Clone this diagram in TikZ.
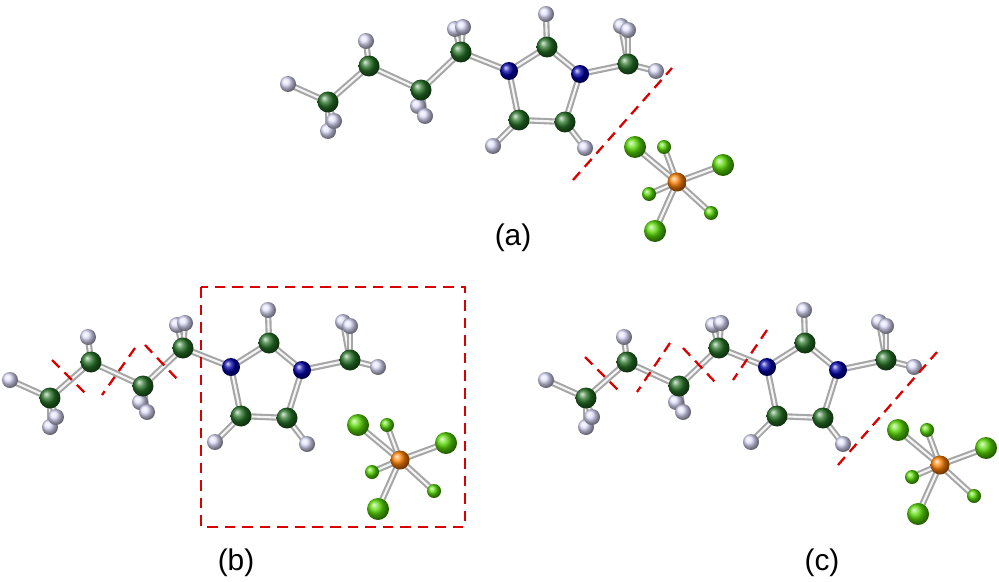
\documentclass[tikz,border=0pt]{standalone}
\usepackage{fontspec}
\setmainfont{Liberation Sans}
\begin{document}
\begin{tikzpicture}[x=0.02cm,y=-0.02cm,
  bond/.style={line width=3.6pt,draw=gray!70,line cap=round},
  bondhi/.style={line width=1.2pt,draw=white!92!gray},
  atomC/.style={circle,inner sep=0pt,minimum size=0.42cm,shading=ball,ball color=green!35!black!85},
  atomH/.style={circle,inner sep=0pt,minimum size=0.32cm,shading=ball,ball color=blue!12!white},
  atomN/.style={circle,inner sep=0pt,minimum size=0.36cm,shading=ball,ball color=blue!65!black},
  atomP/.style={circle,inner sep=0pt,minimum size=0.38cm,shading=ball,ball color=orange},
  atomF/.style={circle,inner sep=0pt,minimum size=0.44cm,shading=ball,ball color=green!60!yellow!85!black},
  atomf/.style={circle,inner sep=0pt,minimum size=0.28cm,shading=ball,ball color=green!60!yellow!85!black},
  cut/.style={draw=red!85!black,line width=1.3pt,dash pattern=on 6pt off 4pt},
  lab/.style={font=\fontsize{17}{20}\selectfont}]
\useasboundingbox (0,0) rectangle (999,581);
\newcommand\mybond[2]{\draw[bond] (#1) -- (#2); \draw[bondhi] (#1) -- (#2);}
\newcommand\mymol[1]{%
 \coordinate (#1c1) at (328,102); \coordinate (#1h1a) at (288,84); \coordinate (#1h1b) at (328,131); \coordinate (#1h1c) at (334,121);
 \coordinate (#1c2) at (369,66); \coordinate (#1h2) at (366,41);
 \coordinate (#1c3) at (421,90); \coordinate (#1h3a) at (425,116); \coordinate (#1h3b) at (418,106);
 \coordinate (#1c4) at (461,52); \coordinate (#1h4a) at (455,29); \coordinate (#1h4b) at (463,27);
 \coordinate (#1n1) at (509,71); \coordinate (#1c5) at (547,47); \coordinate (#1h5) at (546,14);
 \coordinate (#1n2) at (580,74); \coordinate (#1c7) at (565,122); \coordinate (#1h7) at (585,148);
 \coordinate (#1c6) at (519,120); \coordinate (#1h6) at (493,146);
 \coordinate (#1c8) at (628,64); \coordinate (#1h8a) at (621,26); \coordinate (#1h8b) at (628,30); \coordinate (#1h8c) at (656,71);
 \foreach \a/\b in {h1a/c1,h1b/c1,h1c/c1,c1/c2,c2/h2,c2/c3,c3/h3a,c3/h3b,c3/c4,c4/h4a,c4/h4b,c4/n1,n1/c5,c5/h5,c5/n2,n2/c7,c7/c6,c6/n1,c6/h6,c7/h7,n2/c8,c8/h8a,c8/h8b,c8/h8c}{\mybond{#1\a}{#1\b}}
 \foreach \h in {h1b,h1a,h1c,h2,h3b,h3a,h4a,h4b,h5,h6,h7,h8a,h8b,h8c}{\node[atomH] at (#1\h) {};}
 \foreach \c in {c1,c2,c3,c4,c5,c6,c7,c8}{\node[atomC] at (#1\c) {};}
 \foreach \n in {n1,n2}{\node[atomN] at (#1\n) {};}
}
\newcommand\mypf[2]{%
 \begin{scope}[shift={#2}]
 \coordinate (#1p) at (0,0);
 \coordinate (#1f1) at (-42,-35); \coordinate (#1f2) at (-13,-35); \coordinate (#1f3) at (46,-17);
 \coordinate (#1f4) at (-28,12); \coordinate (#1f5) at (34,31); \coordinate (#1f6) at (-22,49);
 \foreach \f in {f1,f2,f3,f4,f5,f6}{\mybond{#1p}{#1\f}}
 \node[atomF] at (#1f1) {}; \node[atomf] at (#1f2) {}; \node[atomf] at (#1f4) {};
 \node[atomP] at (#1p) {};
 \node[atomF] at (#1f3) {}; \node[atomf] at (#1f5) {}; \node[atomF] at (#1f6) {};
 \end{scope}}
% (a)
\mymol{a}
\mypf{ap}{(677,182)}
\coordinate (ad1) at (573,180); \coordinate (ad2) at (672,68);
\draw[cut] (ad1) -- (ad2);
\node[lab] (la) at (513,238) {(a)};
% (b)
\begin{scope}[shift={(-278,296)}] \mymol{b} \end{scope}
\mypf{bp}{(400,460)}
\coordinate (bb1) at (201,287); \coordinate (bb2) at (465,527);
\draw[cut] (bb1) rectangle (bb2);
\coordinate (bd1) at (52,360); \coordinate (bd2) at (85,393);
\coordinate (bd3) at (135,348); \coordinate (bd4) at (102,395);
\coordinate (bd5) at (145,345); \coordinate (bd6) at (178,380);
\draw[cut] (bd1) -- (bd2); \draw[cut] (bd3) -- (bd4); \draw[cut] (bd5) -- (bd6);
\node[lab] (lb) at (236,563) {(b)};
% (c)
\begin{scope}[shift={(258,296)}] \mymol{c} \end{scope}
\mypf{cp}{(940,465)}
\coordinate (cd1) at (585,357); \coordinate (cd2) at (618,390);
\coordinate (cd3) at (670,343); \coordinate (cd4) at (637,392);
\coordinate (cd5) at (683,348); \coordinate (cd6) at (715,382);
\coordinate (cd7) at (767,330); \coordinate (cd8) at (733,380);
\coordinate (cd9) at (838,465); \coordinate (cd10) at (937,352);
\foreach \a/\b in {cd1/cd2,cd3/cd4,cd5/cd6,cd7/cd8,cd9/cd10}{\draw[cut] (\a) -- (\b);}
\node[lab] (lc) at (822,563) {(c)};
\end{tikzpicture}
\end{document}
